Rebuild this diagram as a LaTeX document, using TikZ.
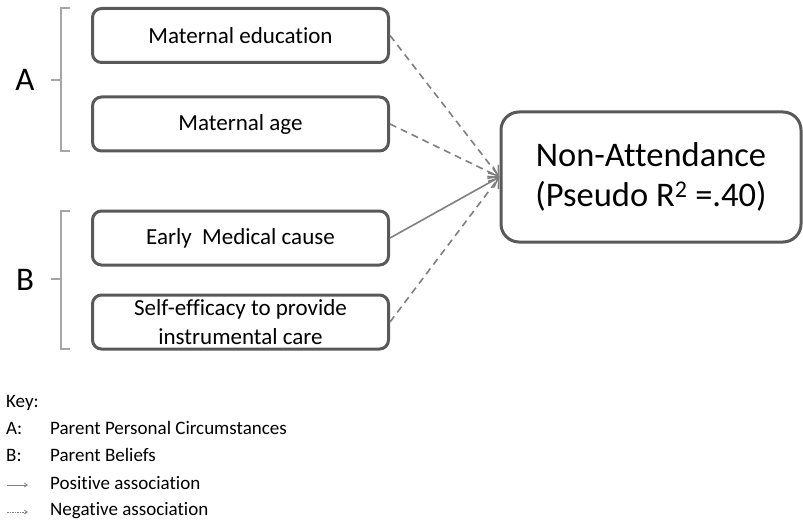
\documentclass[tikz,border=0pt]{standalone}
\usepackage{fontspec}
\setmainfont[Ligatures={NoCommon}]{Carlito}
\usetikzlibrary{arrows.meta}
\definecolor{boxline}{HTML}{595959}
\definecolor{linkline}{HTML}{7F7F7F}
\definecolor{bracketline}{HTML}{A6A6A6}
\tikzset{
  factor/.style={draw=boxline, line width=3pt, rounded corners=9pt, inner sep=0pt,
    minimum width=296pt, minimum height=54pt, align=center,
    font=\fontsize{23}{29}\selectfont},
  outcome/.style={draw=boxline, line width=3pt, rounded corners=18pt, inner sep=0pt,
    minimum width=300pt, minimum height=130pt, align=center,
    font=\fontsize{34.5}{40}\selectfont},
  poslink/.style={draw=linkline, line width=1.6pt, -{Straight Barb[length=9pt,width=13pt,line width=1.6pt]}},
  neglink/.style={poslink, dash pattern=on 7pt off 5pt},
  grouplabel/.style={font=\fontsize{33}{33}\selectfont, inner sep=0pt},
  bracket/.style={draw=bracketline, line width=1.5pt},
  keytext/.style={font=\fontsize{19}{19}\selectfont, anchor=west, inner sep=0pt},
  keypos/.style={draw=linkline, line width=0.8pt, -{Straight Barb[length=3pt,width=4pt]}},
  keyneg/.style={keypos, dash pattern=on 1.5pt off 1pt}
}
\begin{document}
\begin{tikzpicture}[x=1pt,y=-1pt]
\useasboundingbox (0,0) rectangle (803,524);

% factor boxes
\node[factor] (edu) at (240.5,35.5) {Maternal education};
\node[factor] (age) at (240.5,124) {Maternal age};
\node[factor] (med) at (240.5,238) {Early~ Medical cause};
\node[factor] (eff) at (240.5,322) {Self-efficacy to provide\\instrumental care};

% outcome box
\node[outcome] (out) at (651,177) {Non-Attendance\\(Pseudo R\textsuperscript{\fontsize{24}{24}\selectfont 2} =.40)};

% associations
\draw[neglink] (edu.east) -- (out.west);
\draw[neglink] (age.east) -- (out.west);
\draw[poslink] (med.east) -- (out.west);
\draw[neglink] (eff.east) -- (out.west);

% group brackets
\draw[bracket] (70,8) -- (61,8) -- (61,151) -- (70,151);
\draw[bracket] (51,80) -- (61,80);
\node[grouplabel] (ga) at (25,80) {A};
\draw[bracket] (70,211) -- (61,211) -- (61,349) -- (70,349);
\draw[bracket] (51,279) -- (61,279);
\node[grouplabel] (gb) at (25,280) {B};

% key
\node[keytext] (key) at (6,403) {Key:};
\node[keytext] (ka) at (6,428) {A:};
\node[keytext] (kat) at (50,428) {Parent Personal Circumstances};
\node[keytext] (kb) at (6,455) {B:};
\node[keytext] (kbt) at (50,455) {Parent Beliefs};
\coordinate (kp1) at (7,485);
\coordinate (kp2) at (28,485);
\draw[keypos] (kp1) -- (kp2);
\node[keytext] (kpt) at (50,483) {Positive association};
\coordinate (kn1) at (7,512);
\coordinate (kn2) at (28,512);
\draw[keyneg] (kn1) -- (kn2);
\node[keytext] (knt) at (50,511) {Negative association};
\end{tikzpicture}
\end{document}
